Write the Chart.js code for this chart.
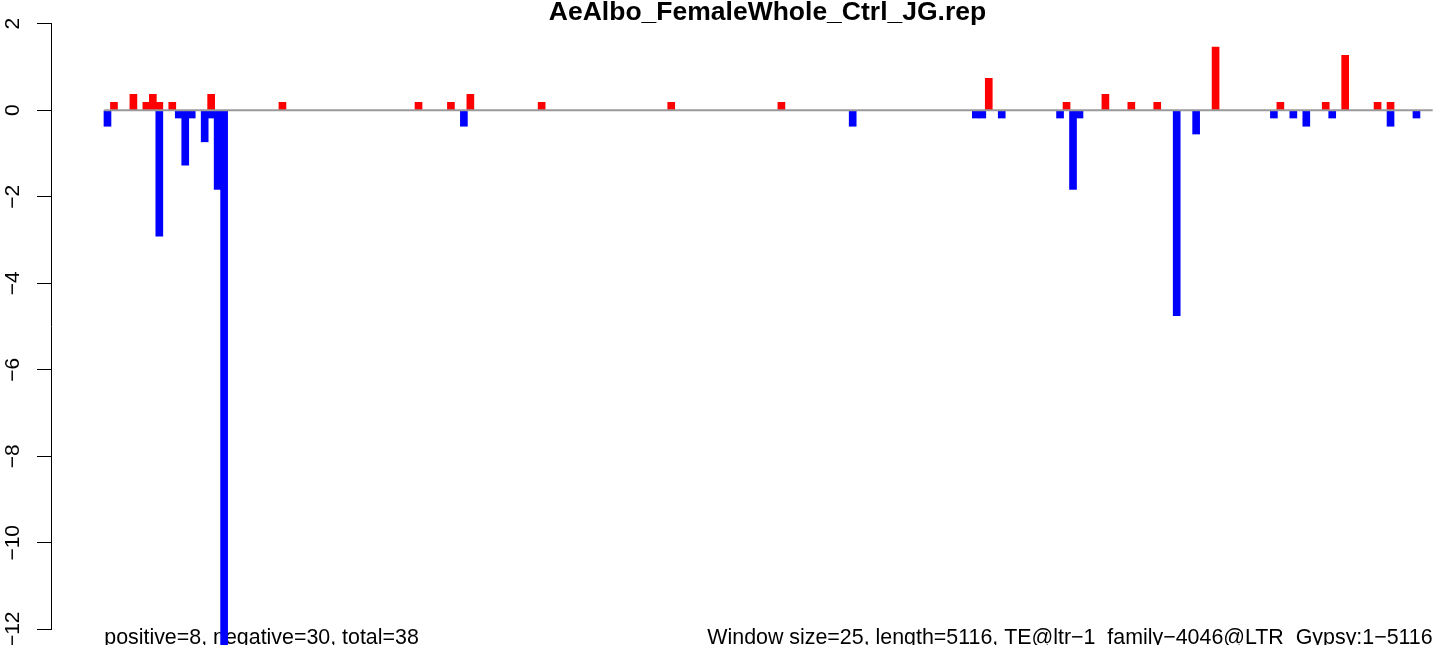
<!DOCTYPE html>
<html>
<head>
<meta charset="utf-8">
<script src="https://cdn.jsdelivr.net/npm/chart.js@4/dist/chart.umd.min.js"></script>
<style>
  body { margin: 0; background: #fff; }
</style>
</head>
<body>
<canvas id="chart" width="1444" height="645"></canvas>
<script>
var plotTitle = "AeAlbo_FemaleWhole_Ctrl_JG.rep"
var leftNote = "positive=8, negative=30, total=38"
var rightNote = "Window size=25, length=5116, TE@ltr\u22121_family\u22124046@LTR_Gypsy:1\u22125116"

// 25 bp windows along the element, 205 in total
var nWindows = 205

// windows with a positive score (red) and their values
var posWindows = [2, 5, 7, 8, 9, 11, 17, 28, 49, 54, 57, 68, 88, 105, 137, 149, 155, 159, 163, 172, 182, 189, 192, 197, 199]
var posValues  = [0.18, 0.37, 0.18, 0.37, 0.18, 0.18, 0.37, 0.18, 0.18, 0.18, 0.37, 0.18, 0.18, 0.18, 0.74, 0.18, 0.37, 0.18, 0.18, 1.46, 0.18, 0.18, 1.27, 0.18, 0.18]

// windows with a negative score (blue) and their values
var negWindows = [1, 9, 12, 13, 14, 16, 17, 18, 19, 56, 116, 135, 136, 139, 148, 150, 151, 166, 169, 181, 184, 186, 190, 199, 203]
var negValues  = [-0.37, -2.91, -0.18, -1.27, -0.18, -0.73, -0.18, -1.83, -12.6, -0.37, -0.37, -0.18, -0.18, -0.18, -0.18, -1.83, -0.18, -4.75, -0.55, -0.18, -0.18, -0.37, -0.18, -0.37, -0.18]

var yMin = -12
var yMax = 2
var yStep = 2

function points(xs, ys) {
  var out = []
  for (var i = 0; i < xs.length; i++) out.push({x: xs[i], y: ys[i]})
  return out
}

var notes = {
  id: 'notes',
  afterLayout: function(chart) {
    // R centres the title on a plot region that runs past the right edge
    var t = chart.titleBlock
    t.left = 91
    t.width = t.right - t.left
  },
  beforeDatasetsDraw: function(chart) {
    var ctx = chart.ctx
    var xs = chart.scales.x
    ctx.save()
    ctx.font = '21.4px "Liberation Sans", Arial, sans-serif'
    ctx.fillStyle = '#000'
    ctx.textBaseline = 'alphabetic'
    ctx.textAlign = 'left'
    ctx.fillText(leftNote, xs.getPixelForValue(0.5), 644)
    ctx.textAlign = 'right'
    ctx.fillText(rightNote, xs.getPixelForValue(nWindows + 0.5), 644)
    ctx.restore()
  }
}

Chart.defaults.font.family = '"Liberation Sans", Arial, sans-serif'
Chart.defaults.color = '#000'

var ctx = document.getElementById('chart').getContext('2d')
new Chart(ctx, {
  type: 'bar',
  data: {
    datasets: [
      {
        type: 'line',
        data: [{x: 0.5, y: 0}, {x: nWindows + 0.5, y: 0}],
        borderColor: '#9a9a9a',
        borderWidth: 2,
        pointRadius: 0,
        order: 0
      },
      {
        data: points(posWindows, posValues),
        backgroundColor: '#ff0000',
        barThickness: 7,
        grouped: false,
        order: 1
      },
      {
        data: points(negWindows, negValues),
        backgroundColor: '#0000ff',
        barThickness: 7,
        grouped: false,
        clip: false,
        order: 2
      }
    ]
  },
  options: {
    responsive: false,
    animation: false,
    devicePixelRatio: 1,
    layout: { padding: { left: 0, right: 0, top: 0, bottom: 15.7 } },
    plugins: {
      legend: { display: false },
      tooltip: { enabled: false },
      title: {
        display: true,
        text: plotTitle,
        fullSize: false,
        color: '#000',
        font: { size: 26.5, weight: 'bold', lineHeight: 0.82 },
        padding: { top: 2, bottom: 0 }
      }
    },
    scales: {
      x: {
        type: 'linear',
        display: false,
        offset: false,
        min: -7.716,
        max: 207.25
      },
      y: {
        min: yMin,
        max: yMax,
        afterFit: function(scale) {
          scale.width = 51
          scale.paddingTop = 0
          scale.paddingBottom = 0
        },
        grid: { drawOnChartArea: false, tickLength: 14, color: '#000', lineWidth: 1 },
        border: { display: true, color: '#000', width: 1 },
        ticks: {
          stepSize: yStep,
          minRotation: 90,
          maxRotation: 90,
          crossAlign: 'center',
          padding: 6,
          font: { size: 21 },
          color: '#000',
          callback: function(v) { return String(v).replace('-', '\u2212') }
        }
      }
    }
  },
  plugins: [notes]
})
</script>
</body>
</html>
